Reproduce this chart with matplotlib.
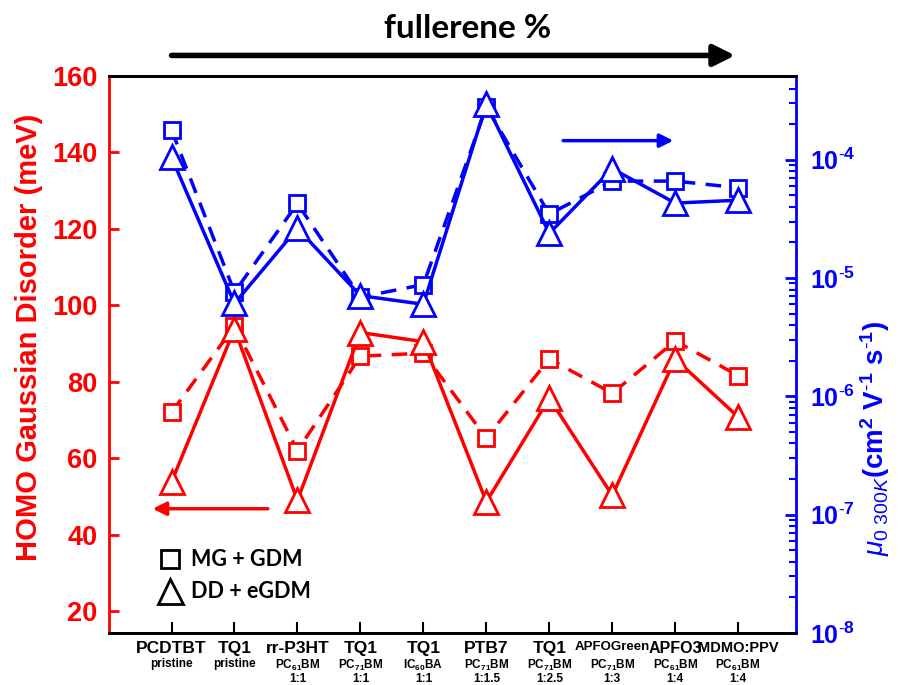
import numpy as np
import matplotlib
matplotlib.use('Agg')
import matplotlib.pyplot as plt
from matplotlib.lines import Line2D
from matplotlib.ticker import FuncFormatter, LogLocator, NullFormatter

plt.rcParams['font.family'] = ['Liberation Sans', 'DejaVu Sans']
plt.rcParams['mathtext.fontset'] = 'custom'
plt.rcParams['mathtext.rm'] = 'Liberation Sans'
plt.rcParams['mathtext.it'] = 'Liberation Sans:italic'
plt.rcParams['mathtext.bf'] = 'Liberation Sans:bold'

# Samples (polymer / fullerene / ratio)
names = ['PCDTBT', 'TQ1', 'rr-P3HT', 'TQ1', 'TQ1', 'PTB7', 'TQ1',
         'APFOGreen', 'APFO3', 'MDMO:PPV']
subs = ['pristine', 'pristine',
        r'PC$_{\mathbf{61}}$BM' + '\n1:1',
        r'PC$_{\mathbf{71}}$BM' + '\n1:1',
        r'IC$_{\mathbf{60}}$BA' + '\n1:1',
        r'PC$_{\mathbf{71}}$BM' + '\n1:1.5',
        r'PC$_{\mathbf{71}}$BM' + '\n1:2.5',
        r'PC$_{\mathbf{71}}$BM' + '\n1:3',
        r'PC$_{\mathbf{61}}$BM' + '\n1:4',
        r'PC$_{\mathbf{61}}$BM' + '\n1:4']

# HOMO Gaussian disorder (meV)
sig_mg = [72, 94.5, 62, 86.7, 87.5, 65.3, 86, 77, 90.7, 81.6]
sig_dd = [53.8, 93.8, 49, 92.9, 90.5, 48.6, 75.7, 50.3, 86, 70.8]
# zero field mobility at 300 K (cm2/Vs)
mu_mg = [1.79e-4, 7.6e-6, 4.27e-5, 6.9e-6, 8.8e-6, 2.8e-4, 3.47e-5, 6.6e-5, 6.6e-5, 5.8e-5]
mu_dd = [1.05e-4, 6.1e-6, 2.63e-5, 7.1e-6, 6.0e-6, 2.95e-4, 2.39e-5, 8.4e-5, 4.3e-5, 4.55e-5]

red = '#ff0000'
blue = '#0000ff'
x = np.arange(len(names))

fig = plt.figure(figsize=(9, 6.85), dpi=100)
ax = fig.add_axes([0.1206, 0.076, 0.764, 0.813])

ax.plot(x, sig_mg, color=red, lw=2.5, ls=(0, (4.5, 3)), marker='s', ms=12,
        mfc='white', mew=2, zorder=3)
ax.plot(x, sig_dd, color=red, lw=2.5, ls='-', marker='^', ms=17,
        mfc='white', mew=2, zorder=4)
ax.set_xlim(-1, 9.92)
ax.set_ylim(14.3, 160)
ax.set_yticks(np.arange(20, 161, 20))
ax.set_ylabel('HOMO Gaussian Disorder (meV)', color=red, fontsize=21,
              fontweight='bold')
ax.yaxis.set_label_coords(-0.095, 0.53)
ax.tick_params(axis='y', colors=red, direction='in', length=7, width=2,
               labelsize=19.5, pad=8)
for t in ax.get_yticklabels():
    t.set_fontweight('bold')

ax.set_xticks(x)
ax.set_xticklabels(names, fontsize=12.5, fontweight='bold')
ax.get_xticklabels()[7].set_fontsize(9.5)
ax.get_xticklabels()[8].set_fontsize(11.5)
ax.get_xticklabels()[9].set_fontsize(10.5)
ax.tick_params(axis='x', direction='in', length=8, width=1.5, pad=6)
for i, s in enumerate(subs):
    ax.text(i, -0.045, s, transform=ax.get_xaxis_transform(), ha='center',
            va='top', fontsize=8.5, fontweight='bold', linespacing=0.95)

ax.spines['left'].set_color(red)
ax.spines['right'].set_visible(False)
for s in ['left', 'top', 'bottom']:
    ax.spines[s].set_linewidth(2)

ax2 = ax.twinx()
ax2.set_yscale('log')
ax2.plot(x, mu_mg, color=blue, lw=2.5, ls=(0, (4.5, 3)), marker='s', ms=12,
         mfc='white', mew=2, zorder=3)
ax2.plot(x, mu_dd, color=blue, lw=2.5, ls='-', marker='^', ms=17,
         mfc='white', mew=2, zorder=4)
ax2.set_ylim(1e-8, 5.1e-4)
ax2.yaxis.set_major_locator(LogLocator(base=10, numticks=10))
ax2.yaxis.set_minor_locator(LogLocator(base=10, subs=np.arange(2, 10), numticks=10))
ax2.yaxis.set_minor_formatter(NullFormatter())
ax2.yaxis.set_major_formatter(FuncFormatter(lambda v, p: r'$\mathbf{10^{\text{-}%d}}$' % round(-np.log10(v))))
ax2.tick_params(axis='y', which='major', colors=blue, direction='in', length=8,
                width=2, labelsize=18, pad=10)
ax2.tick_params(axis='y', which='minor', colors=blue, direction='in', length=5,
                width=1.5)
ax2.set_ylabel(r'$\mu_{0\ 300K}$(cm$^{\mathbf{2}}$ V$^{\mathbf{\text{-}1}}$ s$^{\mathbf{\text{-}1}}$)',
               color=blue, fontsize=20, fontweight='bold')
ax2.yaxis.set_label_coords(1.09, 0.35)
ax2.spines['right'].set_color(blue)
ax2.spines['left'].set_visible(False)
for s in ['right', 'top', 'bottom']:
    ax2.spines[s].set_linewidth(2)

# direction arrows
ax.annotate('', xy=(-0.3, 46.8), xytext=(1.53, 46.8),
            arrowprops=dict(arrowstyle='-|>', color=red, lw=2.5,
                            mutation_scale=20, shrinkA=0, shrinkB=0))
ax2.annotate('', xy=(7.97, 1.45e-4), xytext=(6.22, 1.45e-4),
             arrowprops=dict(arrowstyle='-|>', color=blue, lw=2.5,
                             mutation_scale=20, shrinkA=0, shrinkB=0))
ax.annotate('', xy=(8.95, 1.037), xytext=(0, 1.037),
            xycoords=('data', 'axes fraction'), annotation_clip=False,
            arrowprops=dict(arrowstyle='-|>', color='k', lw=4,
                            mutation_scale=32, shrinkA=0, shrinkB=0))
fig.text(0.519, 0.959, 'fullerene %', ha='center', va='center', fontsize=24,
         fontweight='bold', family='Lato')

handles = [Line2D([], [], ls='none', marker='s', ms=13, mfc='white', mec='k', mew=2),
           Line2D([], [], ls='none', marker='^', ms=18, mfc='white', mec='k', mew=2)]
ax2.legend(handles, ['MG + GDM', 'DD + eGDM'], loc='lower left',
           bbox_to_anchor=(0.058, 0.04), frameon=False, handlelength=1.2,
           handletextpad=0.4, labelspacing=0.5, borderaxespad=0,
           prop={'family': 'Lato', 'weight': 'bold', 'size': 15.5})

fig.savefig('out.png', dpi=100)
